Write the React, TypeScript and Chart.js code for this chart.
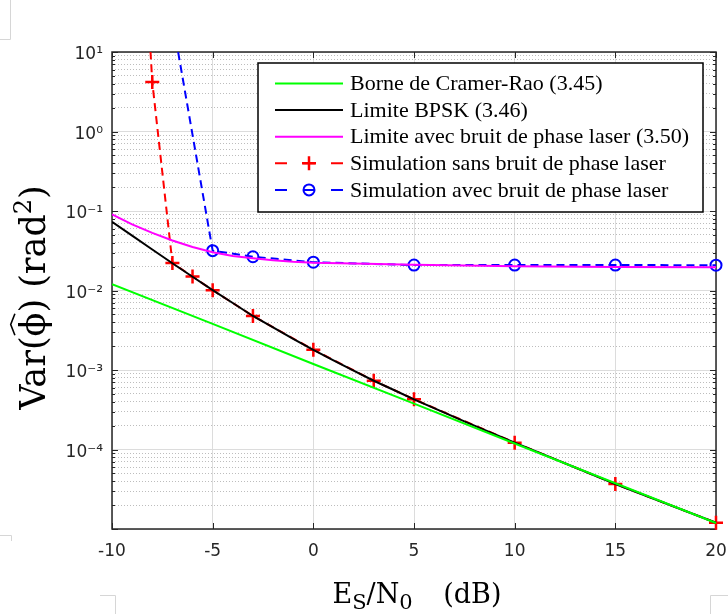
import React, { useEffect, useRef } from 'react';
import { Chart, registerables } from 'chart.js';

Chart.register(...registerables);

// ---------------- data ----------------
const xTicks = [-10, -5, 0, 5, 10, 15, 20];
const yDecades = [1e-5, 1e-4, 1e-3, 1e-2, 1e-1, 1, 10];
const yDecadeLabels = ['', '10⁻⁴', '10⁻³', '10⁻²', '10⁻¹', '10⁰', '10¹'];
const yMinorMultipliers = [2, 3, 4, 5, 6, 7, 8, 9];

// Borne de Cramer-Rao (3.45)
const crbX = [-10, -5, 0, 5, 10, 15, 20];
const crbY = [0.0120, 0.0038, 0.00119, 0.000377, 0.000119, 3.76e-5, 1.19e-5];

// Limite BPSK (3.46)
const bpskX = [-10, -9, -8, -7, -6, -5, -4, -3, -2, -1, 0, 1, 2, 3, 4, 5, 7.5, 10, 15, 20];
const bpskY = [0.0733, 0.0491, 0.0328, 0.0220, 0.0149, 0.0101, 0.00696, 0.00478, 0.00343, 0.00246,
  0.00179, 0.00132, 0.00098, 0.000733, 0.00056, 0.000428, 0.000226, 0.000122, 3.68e-5, 1.2e-5];

// Limite avec bruit de phase laser (3.50)
const laserX = [-10, -9, -8, -7, -6, -5, -4, -3, -2, -1, 0, 2, 5, 10, 15, 20];
const laserY = [0.0908, 0.0680, 0.0530, 0.0425, 0.0352, 0.0302, 0.0272, 0.0254, 0.0240, 0.0230,
  0.0224, 0.0219, 0.0211, 0.0202, 0.0197, 0.0196];

// Simulation sans bruit de phase laser
const simNoLaserX = [-10, -9, -8, -7, -6, -5, -3, 0, 3, 5, 10, 15, 20];
const simNoLaserY = [1e5, 1e5, 4.2, 0.0222, 0.0150, 0.0101, 0.00478, 0.00180, 0.000735, 0.000428,
  0.000122, 3.68e-5, 1.2e-5];

// Simulation avec bruit de phase laser
const simLaserX = [-10, -7, -5, -3, 0, 5, 10, 15, 20];
const simLaserY = [1e5, 26, 0.0317, 0.0266, 0.0227, 0.0209, 0.0209, 0.0209, 0.0208];

const seriesLabels = [
  'Borne de Cramer-Rao (3.45)',
  'Limite BPSK (3.46)',
  'Limite avec bruit de phase laser (3.50)',
  'Simulation sans bruit de phase laser',
  'Simulation avec bruit de phase laser',
];

const zip = (xs: number[], ys: number[]) => xs.map((x, i) => ({ x, y: ys[i] }));

const AXIS_COLOR = '#262626';

function drawLegend(chart: any) {
  const ctx = chart.ctx as CanvasRenderingContext2D;
  const bx = 258, by = 63, bw = 445, bh = 149;
  ctx.save();
  ctx.fillStyle = '#ffffff';
  ctx.fillRect(bx, by, bw, bh);
  ctx.strokeStyle = '#000000';
  ctx.lineWidth = 1.5;
  ctx.strokeRect(bx, by, bw, bh);
  const rowY0 = 83.5, rowStep = 26.6;
  const lx0 = 275, lx1 = 343, mx = 309;
  chart.data.datasets.forEach((ds: any, i: number) => {
    const y = rowY0 + i * rowStep;
    ctx.save();
    ctx.strokeStyle = ds.borderColor;
    ctx.lineWidth = 2;
    if (ds.borderDash && ds.borderDash.length) ctx.setLineDash([12, 16]);
    ctx.beginPath();
    ctx.moveTo(lx0, y);
    ctx.lineTo(lx1, y);
    ctx.stroke();
    ctx.setLineDash([]);
    if (ds.pointStyle === 'cross') {
      ctx.lineWidth = 2.5;
      ctx.beginPath();
      ctx.moveTo(mx - 7, y); ctx.lineTo(mx + 7, y);
      ctx.moveTo(mx, y - 7); ctx.lineTo(mx, y + 7);
      ctx.stroke();
    } else if (ds.pointStyle === 'circle' && ds.pointRadius > 0) {
      ctx.lineWidth = 2;
      ctx.beginPath();
      ctx.arc(mx, y, 5.5, 0, Math.PI * 2);
      ctx.stroke();
    }
    ctx.restore();
    ctx.fillStyle = '#000000';
    ctx.font = '22px "Liberation Serif"';
    ctx.textBaseline = 'middle';
    ctx.textAlign = 'left';
    ctx.fillText(ds.label, 350, y + 1);
  });
  ctx.restore();
}

type Part = { t: string; size: number; dy: number; hat?: boolean; gap?: number };

function drawParts(ctx: CanvasRenderingContext2D, parts: Part[], family: string) {
  const widths = parts.map((p) => {
    ctx.font = `${p.size}px ${family}`;
    return ctx.measureText(p.t).width + (p.gap || 0);
  });
  const total = widths.reduce((a, b) => a + b, 0);
  let x = -total / 2;
  parts.forEach((p, i) => {
    ctx.font = `${p.size}px ${family}`;
    ctx.fillText(p.t, x, p.dy);
    if (p.hat) {
      const w = ctx.measureText(p.t).width;
      const cx = x + w / 2;
      ctx.save();
      ctx.lineWidth = 1.6;
      ctx.beginPath();
      ctx.moveTo(cx - w * 0.45, -p.size * 0.86);
      ctx.lineTo(cx, -p.size * 0.98);
      ctx.lineTo(cx + w * 0.45, -p.size * 0.86);
      ctx.stroke();
      ctx.restore();
    }
    x += widths[i];
  });
}

function drawTitles(chart: any) {
  const ctx = chart.ctx as CanvasRenderingContext2D;
  const family = '"DejaVu Serif"';
  ctx.save();
  ctx.fillStyle = '#000000';
  ctx.strokeStyle = '#000000';
  ctx.textBaseline = 'alphabetic';
  ctx.textAlign = 'left';
  // y title
  ctx.save();
  ctx.translate(45, 297.5);
  ctx.rotate(-Math.PI / 2);
  drawParts(ctx, [
    { t: 'Var(', size: 35, dy: 0 },
    { t: 'ϕ', size: 35, dy: 0, hat: true },
    { t: ') (rad', size: 35, dy: 0 },
    { t: '2', size: 24, dy: -14 },
    { t: ')', size: 35, dy: 0 },
  ], family);
  ctx.restore();
  // x title
  ctx.save();
  const area = chart.chartArea;
  ctx.translate((area.left + area.right) / 2 + 3, 603);
  drawParts(ctx, [
    { t: 'E', size: 27, dy: 0 },
    { t: 'S', size: 21, dy: 5.5 },
    { t: '/N', size: 27, dy: 0 },
    { t: '0', size: 21, dy: 5.5, gap: 22 },
    { t: ' (dB)', size: 27, dy: 0 },
  ], family);
  ctx.restore();
  ctx.restore();
}

function drawCropMarks(chart: any) {
  const ctx = chart.ctx as CanvasRenderingContext2D;
  ctx.save();
  ctx.strokeStyle = '#d6d6d6';
  ctx.lineWidth = 1;
  ctx.beginPath();
  ctx.moveTo(10.5, 0); ctx.lineTo(10.5, 39.5); ctx.lineTo(0, 39.5);
  ctx.moveTo(0, 535.5); ctx.lineTo(11.5, 535.5); ctx.lineTo(11.5, 541);
  ctx.moveTo(100, 595.5); ctx.lineTo(115.5, 595.5); ctx.lineTo(115.5, 614);
  ctx.moveTo(710.5, 614); ctx.lineTo(710.5, 595.5); ctx.lineTo(728, 595.5);
  ctx.stroke();
  ctx.restore();
}

function drawFrame(chart: any) {
  const ctx = chart.ctx as CanvasRenderingContext2D;
  const { left, right, top, bottom } = chart.chartArea;
  const xs = chart.scales.x;
  const ys = chart.scales.y;
  ctx.save();
  ctx.strokeStyle = AXIS_COLOR;
  ctx.lineWidth = 1;
  ctx.beginPath();
  xs.ticks.forEach((t: any) => {
    const px = Math.round(xs.getPixelForValue(t.value)) + 0.5;
    ctx.moveTo(px, bottom); ctx.lineTo(px, bottom - 6);
    ctx.moveTo(px, top); ctx.lineTo(px, top + 6);
  });
  ys.ticks.forEach((t: any) => {
    const py = Math.round(ys.getPixelForValue(t.value)) + 0.5;
    const len = t.major ? 6 : 3;
    ctx.moveTo(left, py); ctx.lineTo(left + len, py);
    ctx.moveTo(right, py); ctx.lineTo(right - len, py);
  });
  ctx.stroke();
  ctx.lineWidth = 1.5;
  ctx.strokeRect(left, top, right - left, bottom - top);
  ctx.restore();
}

const overlayPlugin = {
  id: 'overlay',
  beforeDatasetsDraw(chart: any) {
    drawFrame(chart);
  },
  afterDraw(chart: any) {
    drawLegend(chart);
    drawTitles(chart);
    drawCropMarks(chart);
  },
};

const isDecade = (v: number) => yDecades.findIndex((d) => Math.abs(Math.log10(v) - Math.log10(d)) < 1e-6);

export default function App() {
  const ref = useRef<HTMLCanvasElement>(null);
  useEffect(() => {
    const canvas = ref.current!;
    const clip = { left: 0, top: 0, right: 10, bottom: 10 } as any;
    const chart = new Chart(canvas, {
      type: 'line',
      data: {
        datasets: [
          { label: seriesLabels[0], data: zip(crbX, crbY), borderColor: '#00ff00', borderWidth: 2, pointRadius: 0, clip },
          { label: seriesLabels[1], data: zip(bpskX, bpskY), borderColor: '#000000', borderWidth: 2, pointRadius: 0, clip },
          { label: seriesLabels[2], data: zip(laserX, laserY), borderColor: '#ff00ff', borderWidth: 2, pointRadius: 0, clip },
          {
            label: seriesLabels[3], data: zip(simNoLaserX, simNoLaserY), borderColor: '#ff0000', borderWidth: 2,
            borderDash: [8, 5], pointStyle: 'cross', pointRadius: 7, pointBorderWidth: 2.5,
            pointBorderColor: '#ff0000', pointBackgroundColor: '#ff0000', clip,
          },
          {
            label: seriesLabels[4], data: zip(simLaserX, simLaserY), borderColor: '#0000ff', borderWidth: 2,
            borderDash: [8, 5], pointStyle: 'circle', pointRadius: 5.5, pointBorderWidth: 2,
            pointBorderColor: '#0000ff', pointBackgroundColor: 'rgba(0,0,0,0)', clip,
          },
        ] as any,
      },
      options: {
        responsive: false,
        animation: false,
        devicePixelRatio: 1,
        layout: { padding: { top: 52, right: 12, left: 0, bottom: 0 } },
        plugins: { legend: { display: false }, tooltip: { enabled: false } },
        elements: { line: { tension: 0 } },
        scales: {
          x: {
            type: 'linear',
            min: -10,
            max: 20,
            afterBuildTicks: (s: any) => { s.ticks = xTicks.map((v) => ({ value: v })); },
            afterFit: (s: any) => { s.height = 85; s.paddingLeft = 0; s.paddingRight = 0; },
            grid: { color: '#dcdcdc', lineWidth: 1, drawTicks: false },
            border: { display: false },
            ticks: {
              padding: 12,
              color: AXIS_COLOR,
              font: { family: 'DejaVu Sans', size: 17 },
              maxRotation: 0,
              autoSkip: false,
              callback: (v: any) => String(v),
            },
          },
          y: {
            type: 'logarithmic',
            min: 1e-5,
            max: 10,
            afterBuildTicks: (s: any) => {
              const t: any[] = [];
              yDecades.forEach((d, i) => {
                t.push({ value: d, major: true });
                if (i < yDecades.length - 1) yMinorMultipliers.forEach((m) => t.push({ value: d * m, major: false }));
              });
              s.ticks = t;
            },
            afterFit: (s: any) => { s.width = 112; },
            grid: {
              color: (c: any) => (c.tick && !c.tick.major ? '#bdbdbd' : '#dcdcdc'),
              lineWidth: 1,
              drawTicks: false,
            },
            border: { display: false, dash: (c: any) => (c.tick && !c.tick.major ? [1, 2] : []) } as any,
            ticks: {
              padding: 9,
              labelOffset: 3,
              color: AXIS_COLOR,
              font: { family: 'DejaVu Sans', size: 17 },
              autoSkip: false,
              callback: (v: any) => {
                const i = isDecade(Number(v));
                return i >= 0 ? yDecadeLabels[i] : '';
              },
            },
          },
        },
      },
      plugins: [overlayPlugin],
    } as any);
    return () => chart.destroy();
  }, []);
  return (
    <div style={{ position: 'fixed', left: 0, top: 0, width: 728, height: 614, background: '#ffffff' }}>
      <canvas ref={ref} width={728} height={614} style={{ display: 'block', width: 728, height: 614 }} />
    </div>
  );
}
